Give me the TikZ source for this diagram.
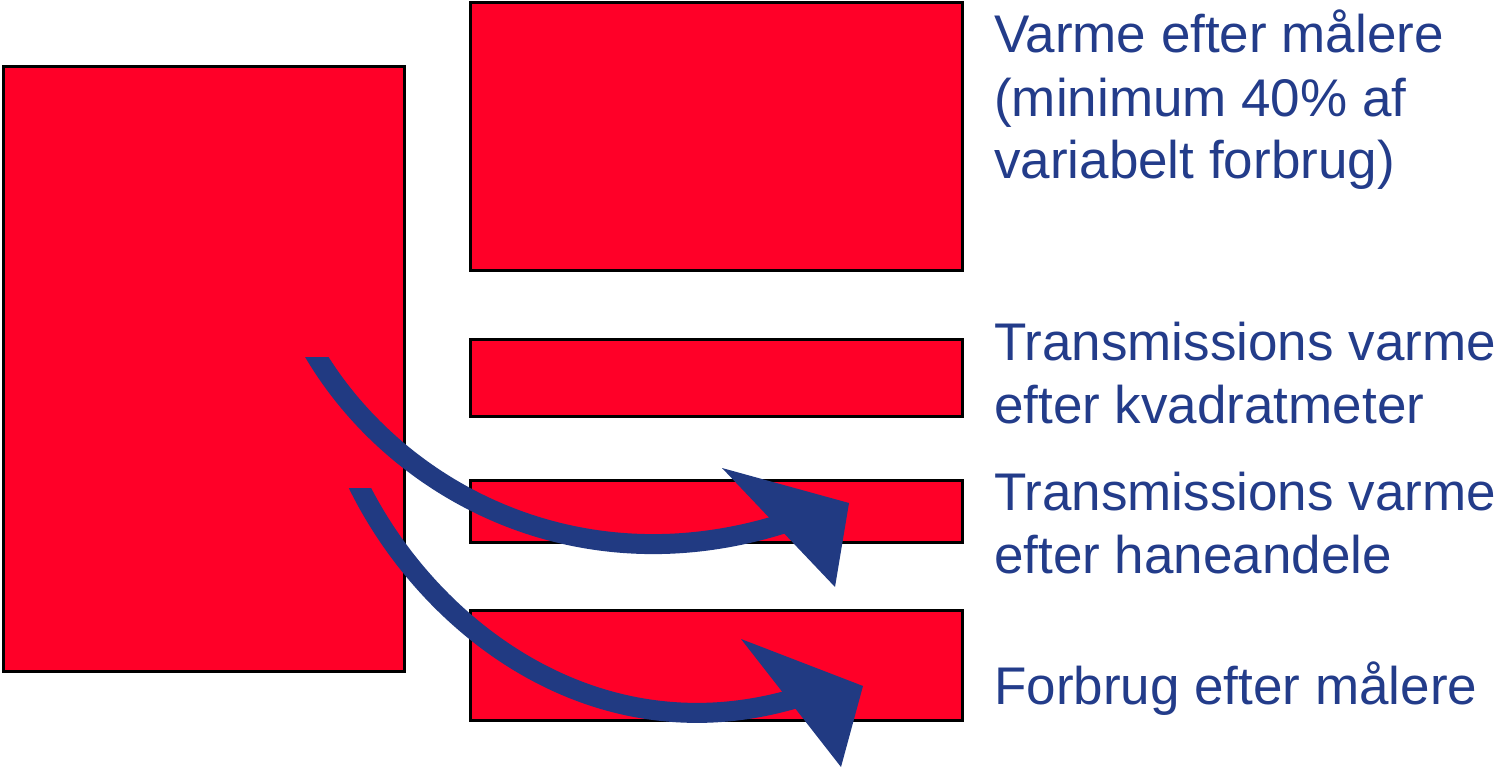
\documentclass[tikz,border=0pt]{standalone}
\usepackage{fontspec}
\setmainfont{Liberation Sans}
\definecolor{boxred}{HTML}{FF0028}
\definecolor{arrblue}{HTML}{213A82}
\definecolor{txtblue}{HTML}{233C8A}
\begin{document}
\begin{tikzpicture}[x=1pt,y=-1pt,
  redbox/.style={draw=black,line width=3pt,fill=boxred,inner sep=0pt,minimum width=#1},
  lbl/.style={anchor=base west,inner sep=0pt,text=txtblue,font=\fontsize{53}{63}\selectfont},
  shaft/.style={draw=arrblue,line width=20pt,line cap=butt},
  headtri/.style={fill=arrblue,draw=none}]
\useasboundingbox (0,0) rectangle (1499,768);
% boxes
\node[redbox=401pt,minimum height=604pt] (left) at (203.5,369) {};
\node[redbox=492pt,minimum height=267pt] (b1) at (716,136.5) {};
\node[redbox=492pt,minimum height=77pt] (b2) at (716,377.5) {};
\node[redbox=492pt,minimum height=62pt] (b3) at (716,511) {};
\node[redbox=492pt,minimum height=110pt] (b4) at (716,665) {};
% labels
\node[lbl] (t1) at (994,53) {\begin{tabular}[t]{@{}l@{}}Varme efter målere\\(minimum 40\% af\\variabelt forbrug)\end{tabular}};
\node[lbl] (t2) at (994,360) {\begin{tabular}[t]{@{}l@{}}Transmissions varme\\efter kvadratmeter\end{tabular}};
\node[lbl] (t3) at (994,510) {\begin{tabular}[t]{@{}l@{}}Transmissions varme\\efter haneandele\end{tabular}};
\node[lbl] (t4) at (994,704) {Forbrug efter målere};
% arrow 1
\coordinate (a1s) at (312,349);
\coordinate (a1e) at (785,523);
\begin{scope}
\clip (0,357) rectangle (1499,768);
\draw[shaft] (a1s) .. controls (392,488) and (575,590) .. (a1e);
\end{scope}
\fill[headtri] (722,468) -- (849,503) -- (835,587) -- cycle;
% arrow 2
\coordinate (a2s) at (356,480);
\coordinate (a2e) at (800,697);
\begin{scope}
\clip (0,488) rectangle (1499,768);
\draw[shaft] (a2s) .. controls (425,625) and (595,760) .. (a2e);
\end{scope}
\fill[headtri] (741,639) -- (863,686) -- (841,767) -- cycle;
\end{tikzpicture}
\end{document}
